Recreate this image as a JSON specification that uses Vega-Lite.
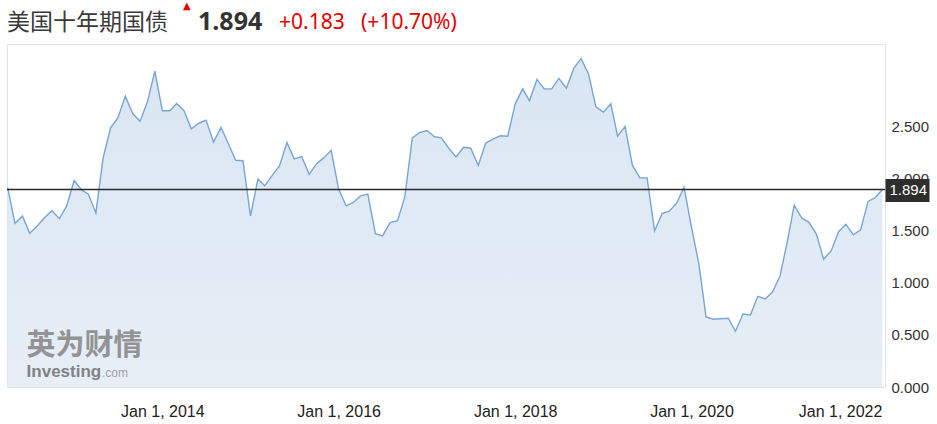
{
  "$schema": "https://vega.github.io/schema/vega-lite/v6.json",
  "background": "white",
  "padding": {"left": 4, "top": 0, "right": 0, "bottom": 0},
  "config": {"view": {"stroke": "#e3e3e3", "strokeWidth": 1}, "concat": {"spacing": 0}},
  "datasets": {
    "bond": [
      {"date": "2012-04-01", "value": 1.91}, {"date": "2012-05-01", "value": 1.57}, {"date": "2012-06-01", "value": 1.64},
      {"date": "2012-07-01", "value": 1.475}, {"date": "2012-08-01", "value": 1.545}, {"date": "2012-09-01", "value": 1.625},
      {"date": "2012-10-01", "value": 1.69}, {"date": "2012-11-01", "value": 1.615}, {"date": "2012-12-01", "value": 1.737},
      {"date": "2013-01-01", "value": 1.98}, {"date": "2013-02-01", "value": 1.89}, {"date": "2013-03-01", "value": 1.85},
      {"date": "2013-04-01", "value": 1.67}, {"date": "2013-05-01", "value": 2.2}, {"date": "2013-06-01", "value": 2.486},
      {"date": "2013-07-01", "value": 2.58}, {"date": "2013-08-01", "value": 2.79}, {"date": "2013-09-01", "value": 2.62},
      {"date": "2013-10-01", "value": 2.55}, {"date": "2013-11-01", "value": 2.74}, {"date": "2013-12-01", "value": 3.03},
      {"date": "2014-01-01", "value": 2.65}, {"date": "2014-02-01", "value": 2.65}, {"date": "2014-03-01", "value": 2.72},
      {"date": "2014-04-01", "value": 2.65}, {"date": "2014-05-01", "value": 2.476}, {"date": "2014-06-01", "value": 2.53},
      {"date": "2014-07-01", "value": 2.56}, {"date": "2014-08-01", "value": 2.35}, {"date": "2014-09-01", "value": 2.49},
      {"date": "2014-10-01", "value": 2.335}, {"date": "2014-11-01", "value": 2.175}, {"date": "2014-12-01", "value": 2.17},
      {"date": "2015-01-01", "value": 1.64}, {"date": "2015-02-01", "value": 1.996}, {"date": "2015-03-01", "value": 1.93},
      {"date": "2015-04-01", "value": 2.03}, {"date": "2015-05-01", "value": 2.12}, {"date": "2015-06-01", "value": 2.345},
      {"date": "2015-07-01", "value": 2.188}, {"date": "2015-08-01", "value": 2.21}, {"date": "2015-09-01", "value": 2.04},
      {"date": "2015-10-01", "value": 2.14}, {"date": "2015-11-01", "value": 2.2}, {"date": "2015-12-01", "value": 2.27},
      {"date": "2016-01-01", "value": 1.9}, {"date": "2016-02-01", "value": 1.737}, {"date": "2016-03-01", "value": 1.77},
      {"date": "2016-04-01", "value": 1.833}, {"date": "2016-05-01", "value": 1.85}, {"date": "2016-06-01", "value": 1.47},
      {"date": "2016-07-01", "value": 1.45}, {"date": "2016-08-01", "value": 1.577}, {"date": "2016-09-01", "value": 1.596},
      {"date": "2016-10-01", "value": 1.823}, {"date": "2016-11-01", "value": 2.39}, {"date": "2016-12-01", "value": 2.44},
      {"date": "2017-01-01", "value": 2.46}, {"date": "2017-02-01", "value": 2.4}, {"date": "2017-03-01", "value": 2.39},
      {"date": "2017-04-01", "value": 2.29}, {"date": "2017-05-01", "value": 2.207}, {"date": "2017-06-01", "value": 2.3},
      {"date": "2017-07-01", "value": 2.29}, {"date": "2017-08-01", "value": 2.124}, {"date": "2017-09-01", "value": 2.34},
      {"date": "2017-10-01", "value": 2.377}, {"date": "2017-11-01", "value": 2.41}, {"date": "2017-12-01", "value": 2.405},
      {"date": "2018-01-01", "value": 2.716}, {"date": "2018-02-01", "value": 2.86}, {"date": "2018-03-01", "value": 2.745},
      {"date": "2018-04-01", "value": 2.95}, {"date": "2018-05-01", "value": 2.86}, {"date": "2018-06-01", "value": 2.86},
      {"date": "2018-07-01", "value": 2.96}, {"date": "2018-08-01", "value": 2.866}, {"date": "2018-09-01", "value": 3.06},
      {"date": "2018-10-01", "value": 3.15}, {"date": "2018-11-01", "value": 3.0}, {"date": "2018-12-01", "value": 2.687},
      {"date": "2019-01-01", "value": 2.636}, {"date": "2019-02-01", "value": 2.716}, {"date": "2019-03-01", "value": 2.406},
      {"date": "2019-04-01", "value": 2.5}, {"date": "2019-05-01", "value": 2.128}, {"date": "2019-06-01", "value": 2.006},
      {"date": "2019-07-01", "value": 2.006}, {"date": "2019-08-01", "value": 1.497}, {"date": "2019-09-01", "value": 1.663},
      {"date": "2019-10-01", "value": 1.686}, {"date": "2019-11-01", "value": 1.766}, {"date": "2019-12-01", "value": 1.916},
      {"date": "2020-01-01", "value": 1.53}, {"date": "2020-02-01", "value": 1.174}, {"date": "2020-03-01", "value": 0.672},
      {"date": "2020-04-01", "value": 0.65}, {"date": "2020-05-01", "value": 0.655}, {"date": "2020-06-01", "value": 0.66},
      {"date": "2020-07-01", "value": 0.535}, {"date": "2020-08-01", "value": 0.7}, {"date": "2020-09-01", "value": 0.69},
      {"date": "2020-10-01", "value": 0.87}, {"date": "2020-11-01", "value": 0.845}, {"date": "2020-12-01", "value": 0.91},
      {"date": "2021-01-01", "value": 1.062}, {"date": "2021-02-01", "value": 1.4}, {"date": "2021-03-01", "value": 1.744},
      {"date": "2021-04-01", "value": 1.622}, {"date": "2021-05-01", "value": 1.58}, {"date": "2021-06-01", "value": 1.466},
      {"date": "2021-07-01", "value": 1.225}, {"date": "2021-08-01", "value": 1.305}, {"date": "2021-09-01", "value": 1.49},
      {"date": "2021-10-01", "value": 1.56}, {"date": "2021-11-01", "value": 1.459}, {"date": "2021-12-01", "value": 1.507},
      {"date": "2022-01-01", "value": 1.78}, {"date": "2022-02-01", "value": 1.82}, {"date": "2022-03-01", "value": 1.894}
    ],
    "last": [{"value": 1.894}]
  },
  "title": {"text": "美国十年期国债", "anchor": "start", "frame": "group", "font": "Noto Sans CJK SC", "fontSize": 23, "fontWeight": "normal", "color": "#3a3a3a", "offset": 0, "dy": 34},
  "vconcat": [
    {
      "title": {"text": "+0.183\u00a0\u00a0\u00a0(+10.70%)", "anchor": "start", "frame": "group", "font": "Noto Sans", "fontSize": 21, "fontWeight": "normal", "color": "#e60000", "offset": 0, "dx": 272, "dy": 32},
      "vconcat": [
        {
          "title": {"text": "▲", "anchor": "start", "frame": "group", "font": "DejaVu Sans", "fontSize": 10, "color": "#e60000", "offset": 0, "dx": 176, "dy": 1},
          "vconcat": [
            {
              "title": {"text": "1.894", "anchor": "start", "frame": "group", "font": "Noto Sans", "fontSize": 25, "fontWeight": "bold", "color": "#333333", "offset": 9, "dx": 191},
              "width": 878,
              "height": 343,
              "resolve": {"axis": {"y": "independent"}},
              "layer": [
                {
                  "data": {"name": "bond"},
                  "encoding": {
                    "x": {
                      "field": "date", "type": "temporal",
                      "scale": {"type": "utc", "domain": [{"year": 2012, "month": 3, "date": 29, "utc": true}, {"year": 2022, "month": 3, "date": 12, "utc": true}]},
                      "axis": {
                        "orient": "bottom", "title": null, "domain": false, "ticks": false, "tickSize": 0, "grid": false,
                        "values": [{"year": 2014, "month": 1, "date": 1, "utc": true}, {"year": 2016, "month": 1, "date": 1, "utc": true}, {"year": 2018, "month": 1, "date": 1, "utc": true}, {"year": 2020, "month": 1, "date": 1, "utc": true}, {"year": 2022, "month": 1, "date": 1, "utc": true}],
                        "labelExpr": "utcFormat(datum.value, '%b %-d, %Y')",
                        "labelFont": "Liberation Sans", "labelFontSize": 16, "labelColor": "#222222", "labelPadding": 16,
                        "labelOverlap": false, "labelFlush": false, "labelBound": false,
                        "labelOffset": {"condition": {"test": "datum.value > utc(2021, 0, 1)", "value": -28}, "value": 0}
                      }
                    },
                    "y": {
                      "field": "value", "type": "quantitative",
                      "scale": {"domain": [0, 3.29], "nice": false, "zero": true},
                      "axis": {
                        "orient": "right", "title": null, "domain": false, "ticks": false, "tickSize": 0, "grid": false,
                        "values": [0, 0.5, 1, 1.5, 2, 2.5], "format": ".3f",
                        "labelFont": "Liberation Sans", "labelFontSize": 15, "labelColor": "#333333", "labelPadding": 6
                      }
                    }
                  },
                  "layer": [
                    {"mark": {"type": "area", "color": {"gradient": "linear", "x1": 0, "y1": 0, "x2": 0, "y2": 1, "stops": [{"offset": 0, "color": "#d9e6f3"}, {"offset": 1, "color": "#e7eef6"}]}}},
                    {"mark": {"type": "line", "color": "#78a5d5", "strokeWidth": 1.4}}
                  ]
                },
                {
                  "data": {"values": [{}]},
                  "mark": {"type": "text", "text": "英为财情", "font": "Noto Sans CJK SC", "fontSize": 29, "fontWeight": "bold", "color": "#8a8a8a", "align": "left", "baseline": "alphabetic", "opacity": 0.9},
                  "encoding": {
                    "x": {"datum": {"year": 2012, "month": 6, "date": 18, "utc": true}, "type": "temporal"},
                    "y": {"datum": 0.31, "type": "quantitative", "axis": null}
                  }
                },
                {
                  "data": {"values": [{}]},
                  "mark": {"type": "text", "text": "Investing", "font": "Liberation Sans", "fontSize": 17, "fontWeight": "bold", "color": "#777777", "align": "left", "baseline": "alphabetic", "opacity": 0.9},
                  "encoding": {
                    "x": {"datum": {"year": 2012, "month": 6, "date": 18, "utc": true}, "type": "temporal"},
                    "y": {"datum": 0.096, "type": "quantitative", "axis": null}
                  }
                },
                {
                  "data": {"values": [{}]},
                  "mark": {"type": "text", "text": ".com", "font": "Liberation Sans", "fontSize": 12, "color": "#9a9a9a", "align": "left", "baseline": "alphabetic", "opacity": 0.9},
                  "encoding": {
                    "x": {"datum": {"year": 2013, "month": 4, "date": 26, "utc": true}, "type": "temporal"},
                    "y": {"datum": 0.096, "type": "quantitative", "axis": null}
                  }
                },
                {
                  "data": {"name": "last"},
                  "mark": {"type": "rule", "color": "#2b2b2b", "strokeWidth": 1.5},
                  "encoding": {
                    "y": {
                      "field": "value", "type": "quantitative",
                      "axis": {
                        "orient": "right", "title": null, "domain": false, "grid": false, "ticks": true,
                        "values": [1.894], "format": ".3f",
                        "tickSize": 44, "tickWidth": 23, "tickColor": "#2e2e2e",
                        "labelFont": "Liberation Sans", "labelFontSize": 15, "labelColor": "#ffffff", "labelPadding": -40,
                        "labelOverlap": false, "zindex": 2
                      }
                    }
                  }
                }
              ]
            }
          ]
        }
      ]
    }
  ]
}
